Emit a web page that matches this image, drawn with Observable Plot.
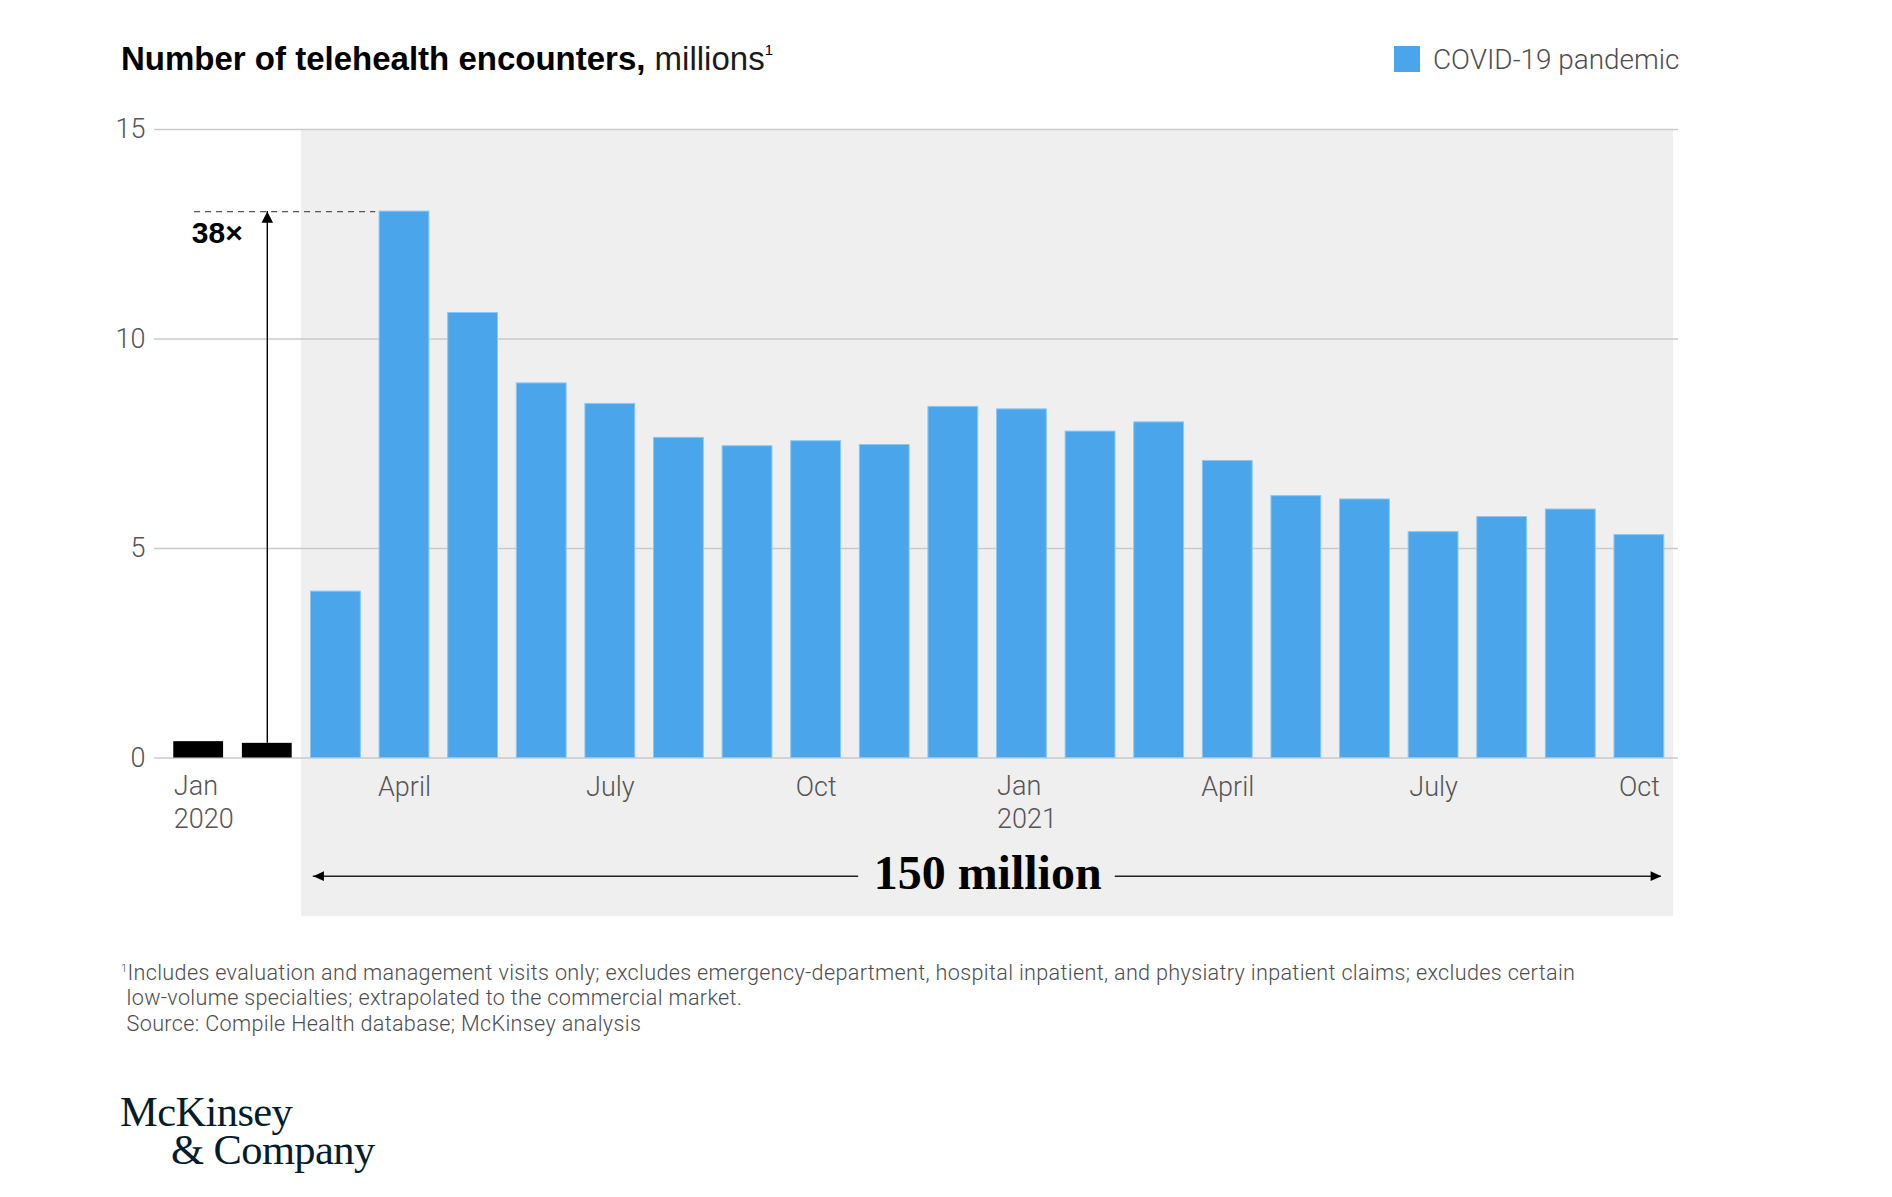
<!DOCTYPE html>
<html>
<head>
<meta charset="utf-8">
<script src="https://cdn.jsdelivr.net/npm/d3@7"></script>
<script src="https://cdn.jsdelivr.net/npm/@observablehq/plot@0.6"></script>
<style>
  body { margin: 0; background: #fff; }
  #page { position: relative; width: 1892px; height: 1197px; overflow: hidden; background: #fff; }
  .abs { position: absolute; white-space: nowrap; }
  #title { left: 121px; top: 42px; font: 700 33px/1 "Liberation Sans", Arial, sans-serif; color: #000; }
  #title .unit { font-weight: 400; color: #1a1a1a; }
  #title .sup { font-size: 15px; font-weight: 400; position: relative; top: -15px; line-height: 0; }
  #swatch { left: 1394px; top: 46px; width: 26px; height: 26px; background: #4ba5ea; }
  #legend { left: 1433px; top: 46px; font: 300 27.9px/1 Roboto, sans-serif; color: #4d4d4d; }
  #chart { left: 0; top: 100px; }
  #foot { left: 121px; top: 960px; font: 300 21.6px/25.3px Roboto, sans-serif; letter-spacing: 0.33px; color: #4d4d4d; }
  #foot .sup { font-size: 11px; position: relative; top: -8px; line-height: 0; }
  #logo { left: 120px; top: 1093px; font: 400 42.5px/38.3px "Liberation Serif", serif; color: #051c2c; letter-spacing: -0.6px; }
  #logo .l2 { padding-left: 51px; }
</style>
</head>
<body>
<div id="page">
  <div id="title" class="abs">Number of telehealth encounters,<span class="unit"> millions</span><span class="sup">1</span></div>
  <div id="swatch" class="abs"></div>
  <div id="legend" class="abs">COVID-19 pandemic</div>
  <div id="chart" class="abs"></div>
  <div id="foot" class="abs"><span class="sup">1</span>Includes evaluation and management visits only; excludes emergency-department, hospital inpatient, and physiatry inpatient claims; excludes certain<br>&nbsp;low-volume specialties; extrapolated to the commercial market.<br>&nbsp;Source: Compile Health database; McKinsey analysis</div>
  <div id="logo" class="abs">McKinsey<br><span class="l2">&amp; Company</span></div>
</div>
<script>
// ---- data ----
const months = ["Jan 2020","Feb 2020","Mar 2020","Apr 2020","May 2020","Jun 2020","Jul 2020","Aug 2020","Sep 2020","Oct 2020","Nov 2020","Dec 2020",
                "Jan 2021","Feb 2021","Mar 2021","Apr 2021","May 2021","Jun 2021","Jul 2021","Aug 2021","Sep 2021","Oct 2021"];
const values = [0.39, 0.35, 3.97, 13.04, 10.62, 8.94, 8.45, 7.64, 7.44, 7.56, 7.47, 8.38,
                8.32, 7.79, 8.01, 7.09, 6.25, 6.17, 5.39, 5.75, 5.93, 5.32];
const pandemicStart = 2;           // index of Mar 2020
const yTicks = [0, 5, 10, 15];
const xTickIndex = [0, 3, 6, 9, 12, 15, 18, 21];
const xTickLabels = ["Jan\n2020", "April", "July", "Oct", "Jan\n2021", "April", "July", "Oct"];
const multipleLabel = "38×";
const totalLabel = "150 million";

// ---- styling constants ----
const BLUE = "#4ba5ea";
const GRID = "#cacaca";
const TEXT = "#555";

const data = months.map((m, i) => ({i, month: m, value: values[i], covid: i >= pandemicStart}));
const ticks = xTickIndex.map((i, k) => ({i, label: xTickLabels[k], multi: xTickLabels[k].includes("\n")}));
const peakIdx = values.indexOf(Math.max(...values));
const peak = values[peakIdx];
const baseIdx = pandemicStart - 1;

// annotation positions in data units
const bgBottom = -3.78;
const bracketY = -2.82;
const bracketL = pandemicStart + 0.17;
const bracketR = months.length - 0.18;
const bracketMid = (pandemicStart + months.length) / 2;

// custom arrowhead symbols with the tip at the anchor point
const headUp = {draw(ctx, size) { const r = Math.sqrt(size / Math.PI); ctx.moveTo(0, 0); ctx.lineTo(-0.55 * r, 1.05 * r); ctx.lineTo(0.55 * r, 1.05 * r); ctx.closePath(); }};
const headLeft = {draw(ctx, size) { const r = Math.sqrt(size / Math.PI); ctx.moveTo(0, 0); ctx.lineTo(1.05 * r, -0.48 * r); ctx.lineTo(1.05 * r, 0.48 * r); ctx.closePath(); }};
const headRight = {draw(ctx, size) { const r = Math.sqrt(size / Math.PI); ctx.moveTo(0, 0); ctx.lineTo(-1.05 * r, -0.48 * r); ctx.lineTo(-1.05 * r, 0.48 * r); ctx.closePath(); }};

const chart = Plot.plot({
  width: 1892,
  height: 830,
  marginTop: 29,
  marginBottom: 172.5,
  marginLeft: 154,
  marginRight: 214,
  style: {fontFamily: "Roboto, sans-serif", fontSize: "27px", fontWeight: 300, color: TEXT, background: "transparent", overflow: "visible"},
  x: {type: "linear", domain: [-0.144, 22.07], axis: null},
  y: {domain: [0, 15], axis: null},
  marks: [
    // pandemic shaded period
    Plot.rect([{}], {x1: () => pandemicStart, x2: () => months.length, y1: () => bgBottom, y2: () => 15, fill: "#efefef"}),
    Plot.gridY(yTicks, {stroke: GRID, strokeOpacity: 1, strokeWidth: 1.6}),
    Plot.axisY(yTicks, {tickSize: 0, tickPadding: 9, fontSize: 27, color: TEXT, label: null}),
    // bars
    Plot.rect(data.filter(d => !d.covid), {x1: d => d.i, x2: d => d.i + 1, y1: () => 0, y2: "value", insetLeft: 9.4, insetRight: 9.4, fill: "#000"}),
    Plot.rect(data.filter(d => d.covid), {x1: d => d.i, x2: d => d.i + 1, y1: () => 0, y2: "value", insetLeft: 9.4, insetRight: 9.4, fill: BLUE, stroke: "#8cc6f2", strokeWidth: 1}),
    // x labels
    Plot.text(ticks.filter(t => !t.multi), {x: t => t.i + 0.5, y: () => 0, text: "label", lineAnchor: "top", dy: 19, fontSize: 27, fill: TEXT}),
    Plot.text(ticks.filter(t => t.multi), {x: t => t.i, y: () => 0, text: "label", lineAnchor: "top", textAnchor: "start", dx: 9.4, dy: 13, lineHeight: 1.233, fontSize: 27, fill: TEXT}),
    // 38x annotation
    Plot.ruleY([peak], {y: d => d, x1: () => 0.44, x2: () => peakIdx + 0.08, stroke: "#555", strokeWidth: 1.3, strokeDasharray: "6,5"}),
    Plot.ruleX([baseIdx + 0.5], {x: d => d, y1: () => values[baseIdx], y2: () => peak, stroke: "#000", strokeWidth: 1.4}),
    Plot.dot([baseIdx + 0.5], {x: d => d, y: () => peak, symbol: headUp, r: 10.5, fill: "#000", stroke: "none"}),
    Plot.text([multipleLabel], {x: () => 0.4, y: () => peak, text: d => d, textAnchor: "start", dy: 22, fontSize: 30, fontWeight: 700, fontFamily: "'Liberation Sans', Arial, sans-serif", fill: "#000"}),
    // 150 million bracket
    Plot.ruleY([bracketY], {y: d => d, x1: () => bracketL, x2: () => 10.12, stroke: "#222", strokeWidth: 1.5}),
    Plot.ruleY([bracketY], {y: d => d, x1: () => 13.86, x2: () => bracketR, stroke: "#222", strokeWidth: 1.5}),
    Plot.dot([bracketL], {x: d => d, y: () => bracketY, symbol: headLeft, r: 10.2, fill: "#000", stroke: "none"}),
    Plot.dot([bracketR], {x: d => d, y: () => bracketY, symbol: headRight, r: 10.2, fill: "#000", stroke: "none"}),
    Plot.text([totalLabel], {x: () => bracketMid, y: () => bracketY, text: d => d, dy: -3, fontSize: 48, fontWeight: 700, fontFamily: "'Liberation Serif', serif", fill: "#000"})
  ]
});
document.getElementById("chart").appendChild(chart);
</script>
</body>
</html>
